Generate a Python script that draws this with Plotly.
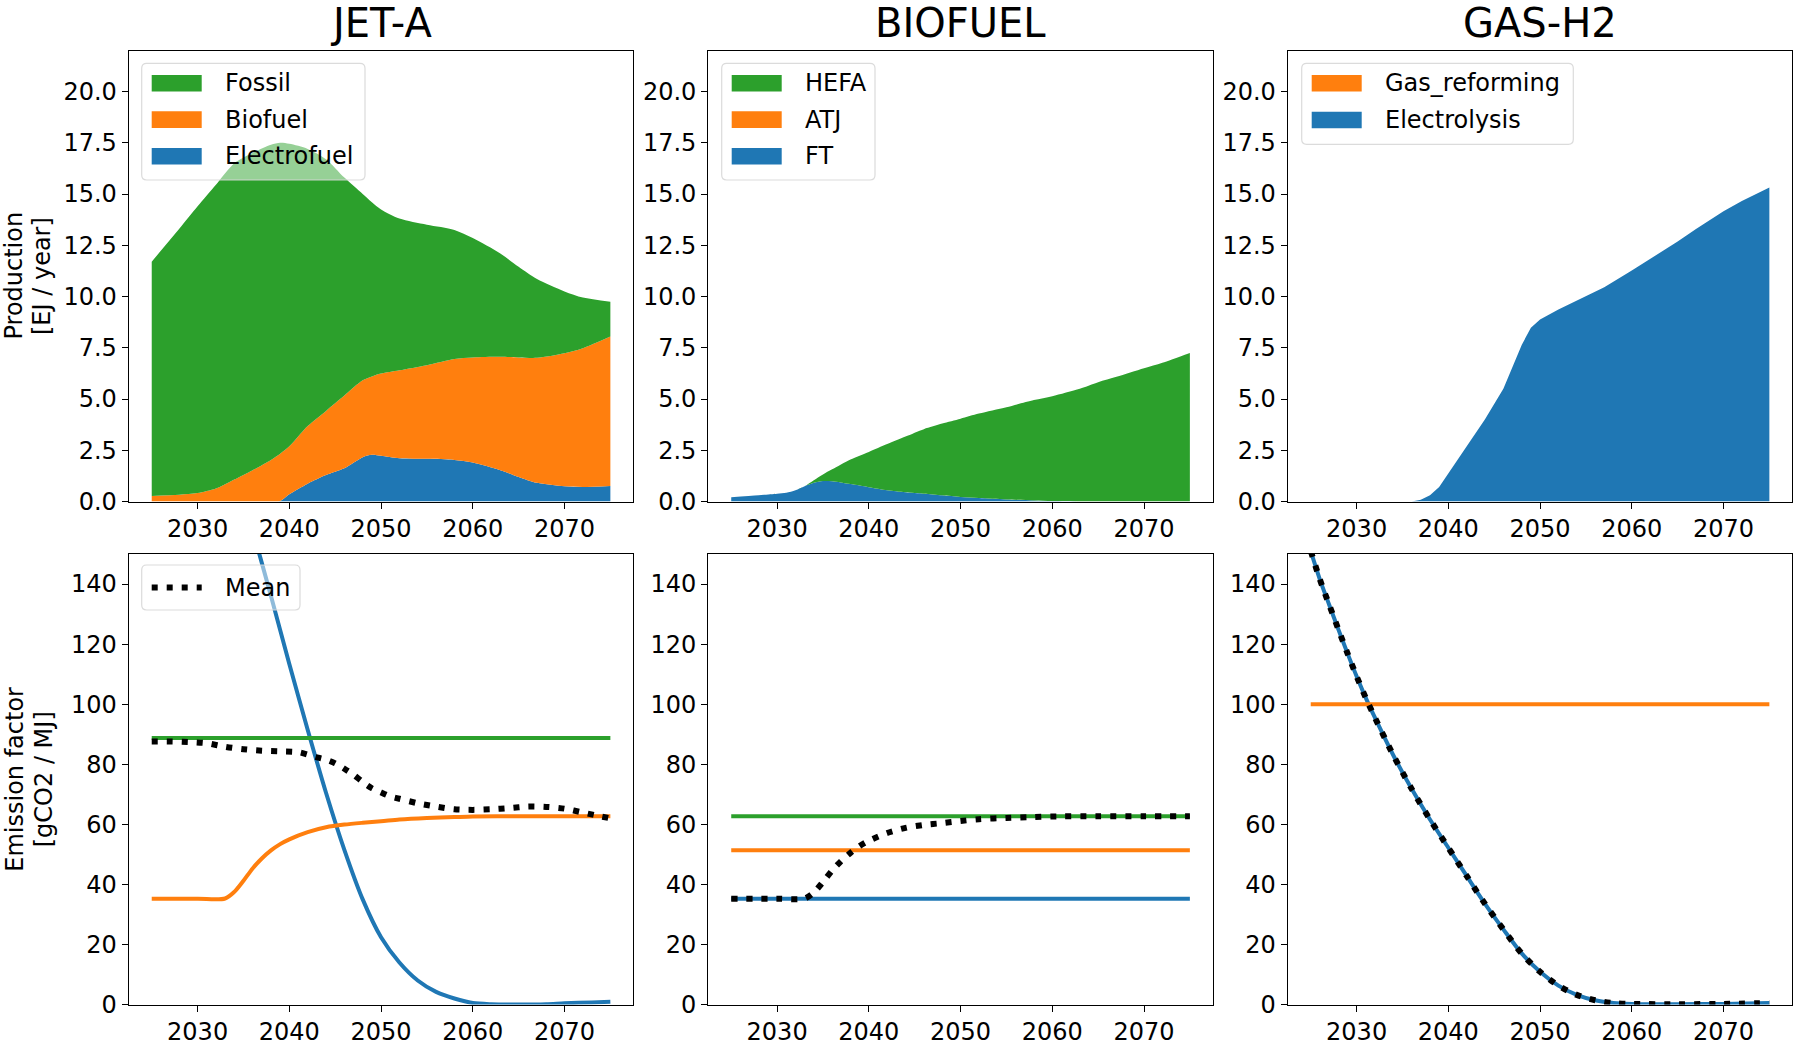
import plotly.graph_objects as go

W, H = 1800, 1050
FONT = "DejaVu Sans"
C_BLUE, C_ORANGE, C_GREEN = "#1f77b4", "#ff7f0e", "#2ca02c"

# ---------------- data: production [EJ / year] ----------------
jet_years = [2025, 2028, 2030, 2032, 2034, 2036, 2038, 2039, 2040, 2042, 2044, 2046, 2048,
             2049, 2050, 2052, 2055, 2058, 2060, 2063, 2065, 2067, 2070, 2072, 2075]
jet_electrofuel = [0, 0, 0, 0, 0, 0, 0, 0.02, 0.35, 0.87, 1.29, 1.62, 2.16,
                   2.28, 2.23, 2.11, 2.08, 2.03, 1.90, 1.53, 1.20, 0.91, 0.74, 0.71, 0.76]
jet_biofuel = [0.27, 0.33, 0.41, 0.63, 1.07, 1.53, 2.03, 2.31, 2.34, 2.81, 3.13, 3.55, 3.75,
               3.82, 4.01, 4.29, 4.57, 4.92, 5.13, 5.53, 5.83, 6.10, 6.49, 6.77, 7.29]
jet_fossil = [11.43, 12.97, 13.99, 14.82, 15.43, 15.47, 15.37, 15.17, 14.76, 13.52, 12.28, 10.63, 9.09,
              8.50, 8.01, 7.40, 6.85, 6.30, 5.82, 5.04, 4.42, 3.84, 3.02, 2.47, 1.70]

bio_years = [2025, 2028, 2030, 2031, 2032, 2033, 2034, 2035, 2036, 2038, 2040, 2042, 2044,
             2046, 2048, 2050, 2052, 2055, 2058, 2060, 2063, 2065, 2067, 2070, 2072, 2075]
bio_ft = [0.21, 0.31, 0.38, 0.43, 0.55, 0.75, 0.92, 1.00, 0.99, 0.85, 0.70, 0.55, 0.45,
          0.38, 0.30, 0.22, 0.17, 0.10, 0.05, 0.02, 0, 0, 0, 0, 0, 0]
bio_atj = [0] * 26
bio_hefa = [0, 0, 0, 0, 0, 0, 0.12, 0.32, 0.58, 1.20, 1.72, 2.25, 2.72,
            3.15, 3.50, 3.82, 4.12, 4.50, 4.90, 5.12, 5.50, 5.82, 6.08, 6.50, 6.77, 7.25]

h2_years = [2025, 2030, 2035, 2036, 2037, 2038, 2039, 2040, 2042, 2044, 2046, 2048,
            2049, 2050, 2052, 2055, 2057, 2060, 2063, 2065, 2067, 2070, 2072, 2075]
h2_electrolysis = [0, 0, 0, 0, 0.08, 0.30, 0.71, 1.37, 2.69, 4.01, 5.50, 7.64,
                   8.47, 8.88, 9.37, 10.03, 10.45, 11.27, 12.10, 12.68, 13.29, 14.16, 14.66, 15.32]
h2_gas_reforming = [0] * 24

# ---------------- data: emission factors [gCO2 / MJ] ----------------
ef_const_years = [2025, 2075]
jet_ef_fossil = [88.7, 88.7]

ef_bio_years = [2025, 2030, 2033, 2034, 2035, 2036, 2037, 2038, 2039, 2040, 2042, 2044,
                2046, 2048, 2050, 2052, 2055, 2058, 2060, 2065, 2070, 2075]
jet_ef_biofuel = [35.2, 35.2, 35.3, 37.5, 41.2, 45.3, 48.6, 51.3, 53.4, 55.0, 57.4, 59.0,
                  59.9, 60.5, 61.0, 61.6, 62.1, 62.4, 62.6, 62.7, 62.7, 62.7]

ef_elec_years = [2025, 2030, 2034, 2036, 2038, 2040, 2042, 2044, 2046, 2048, 2050, 2052,
                 2054, 2056, 2058, 2060, 2062, 2065, 2068, 2070, 2073, 2075]
jet_ef_electrofuel = [295, 228, 180, 158, 136, 113.4, 91.5, 70.5, 51.5, 35.0, 22.4, 14.0,
                      8.0, 4.2, 2.0, 0.5, 0.1, 0.0, 0.1, 0.4, 0.7, 0.9]

ef_mean_years = [2025, 2027, 2029, 2031, 2033, 2035, 2037, 2039, 2041, 2043, 2044, 2045, 2046,
                 2047, 2048, 2049, 2050, 2051, 2052, 2054, 2056, 2058, 2060, 2062, 2064, 2066,
                 2068, 2070, 2072, 2074, 2075]
jet_ef_mean = [87.6, 87.6, 87.4, 87.0, 85.8, 85.0, 84.5, 84.3, 84.0, 82.3, 81.5, 80.3, 78.5,
               76.5, 74.1, 72.0, 70.6, 69.3, 68.5, 67.0, 65.9, 65.0, 64.8, 65.0, 65.4, 65.9,
               65.8, 65.2, 63.9, 62.6, 62.0]

bio_ef_hefa = [62.7, 62.7]
bio_ef_atj = [51.4, 51.4]
bio_ef_ft = [35.2, 35.2]
bio_ef_mean = [35.2, 35.2, 35.3, 37.3, 40.8, 44.6, 47.8, 50.5, 52.8, 54.5, 57.1, 58.8,
               59.8, 60.4, 61.1, 61.7, 62.1, 62.4, 62.6, 62.7, 62.7, 62.7]

h2_ef_years = [2025, 2026, 2027, 2028, 2029, 2030, 2031, 2032, 2034, 2036, 2038, 2040,
               2042, 2044, 2046, 2048, 2050, 2052, 2054, 2056, 2058, 2060, 2065, 2070, 2075]
h2_ef_electrolysis = [151, 141.5, 133.2, 125, 117, 109.3, 102.1, 95.5, 83, 71.8, 61.6, 52.2,
                      42.8, 33.5, 25.0, 17.0, 10.9, 6.3, 3.2, 1.4, 0.5, 0.2, 0.1, 0.2, 0.5]
h2_ef_gas_reforming = [100, 100]
h2_ef_mean = h2_ef_electrolysis

titles = ["JET-A", "BIOFUEL", "GAS-H2"]
prod_ticks = [0, 2.5, 5, 7.5, 10, 12.5, 15, 17.5, 20]
ef_ticks = [0, 20, 40, 60, 80, 100, 120, 140]
year_ticks = [2030, 2040, 2050, 2060, 2070]

# ---------------- layout geometry (pixels) ----------------
col_px = [(128.8, 633.3), (708.3, 1212.8), (1287.8, 1792.3)]
row_px = [(50.5, 501.5), (554.0, 1004.5)]


def fx(p):
    return p / W


def fy(p):
    return 1 - p / H


fig = go.Figure()

tick_font = dict(family=FONT, size=24, color="black")
axis_common = dict(showline=True, mirror=True, linecolor="black", linewidth=1.2,
                   ticks="outside", ticklen=6, tickwidth=1.2, tickcolor="black",
                   showgrid=False, zeroline=False, tickfont=tick_font, fixedrange=True,
                   automargin=False)

for r in range(2):
    for c in range(3):
        i = r * 3 + c + 1
        x0, x1 = col_px[c]
        y0, y1 = row_px[r]
        fig.layout[f"xaxis{i}"] = dict(domain=[fx(x0), fx(x1)], anchor=f"y{i}",
                                       range=[2022.5, 2077.5], tickvals=year_ticks,
                                       **axis_common)
        if r == 0:
            yextra = dict(range=[0, 22], tickvals=prod_ticks, tickformat=".1f")
        else:
            yextra = dict(range=[0, 150], tickvals=ef_ticks)
        fig.layout[f"yaxis{i}"] = dict(domain=[fy(y1), fy(y0)], anchor=f"x{i}",
                                       **yextra, **axis_common)


def area(x, y, color, ax, group, shape="spline"):
    fig.add_trace(go.Scatter(x=x, y=y, mode="lines", stackgroup=group,
                             line=dict(width=0, color=color, shape=shape, smoothing=0.8),
                             fillcolor=color,
                             xaxis=f"x{ax}", yaxis=f"y{ax}", showlegend=False,
                             hoverinfo="skip"))


def line(x, y, color, ax, width=4, dash=None, shape="spline"):
    fig.add_trace(go.Scatter(x=x, y=y, mode="lines",
                             line=dict(width=width, color=color, dash=dash,
                                       shape=shape, smoothing=0.8),
                             xaxis=f"x{ax}", yaxis=f"y{ax}", showlegend=False,
                             hoverinfo="skip"))


MEAN_W = 6
MEAN_DASH = "6px,9px"

# top row: stacked production
area(jet_years, jet_electrofuel, C_BLUE, 1, "jet")
area(jet_years, jet_biofuel, C_ORANGE, 1, "jet")
area(jet_years, jet_fossil, C_GREEN, 1, "jet")

area(bio_years, bio_ft, C_BLUE, 2, "bio")
area(bio_years, bio_atj, C_ORANGE, 2, "bio")
area(bio_years, bio_hefa, C_GREEN, 2, "bio")

area(h2_years, h2_electrolysis, C_BLUE, 3, "h2", shape="linear")
area(h2_years, h2_gas_reforming, C_ORANGE, 3, "h2", shape="linear")

# bottom row: emission factors
line(ef_elec_years, jet_ef_electrofuel, C_BLUE, 4)
line(ef_bio_years, jet_ef_biofuel, C_ORANGE, 4)
line(ef_const_years, jet_ef_fossil, C_GREEN, 4, shape="linear")
line(ef_mean_years, jet_ef_mean, "black", 4, width=MEAN_W, dash=MEAN_DASH)

line(ef_const_years, bio_ef_ft, C_BLUE, 5, shape="linear")
line(ef_const_years, bio_ef_atj, C_ORANGE, 5, shape="linear")
line(ef_const_years, bio_ef_hefa, C_GREEN, 5, shape="linear")
line(ef_bio_years, bio_ef_mean, "black", 5, width=MEAN_W, dash=MEAN_DASH)

line(h2_ef_years, h2_ef_electrolysis, C_BLUE, 6)
line(ef_const_years, h2_ef_gas_reforming, C_ORANGE, 6, shape="linear")
line(h2_ef_years, h2_ef_mean, "black", 6, width=MEAN_W, dash=MEAN_DASH)

# ---------------- titles and axis labels ----------------
annotations = []
for c, t in enumerate(titles):
    x0, x1 = col_px[c]
    annotations.append(dict(text=t, x=fx((x0 + x1) / 2), y=fy(22.5), xref="paper", yref="paper",
                            xanchor="center", yanchor="middle", showarrow=False,
                            font=dict(family=FONT, size=40, color="black")))


def vlabel(text, xc, row):
    annotations.append(dict(text=text, x=fx(xc), y=fy(sum(row_px[row]) / 2),
                            xref="paper", yref="paper", xanchor="center", yanchor="middle",
                            textangle=-90, showarrow=False, borderpad=0,
                            font=dict(family=FONT, size=24, color="black")))


vlabel("Production", 13.5, 0)
vlabel("[EJ / year]", 42, 0)
vlabel("Emission factor", 15.5, 1)
vlabel("[gCO2 / MJ]", 44, 1)

# ---------------- legends (drawn as boxes, patches and text) ----------------
shapes = []


def rounded_box(x0, y0, x1, y1, r=5):
    pts = (f"M{fx(x0 + r)},{fy(y0)} L{fx(x1 - r)},{fy(y0)} Q{fx(x1)},{fy(y0)} {fx(x1)},{fy(y0 + r)} "
           f"L{fx(x1)},{fy(y1 - r)} Q{fx(x1)},{fy(y1)} {fx(x1 - r)},{fy(y1)} "
           f"L{fx(x0 + r)},{fy(y1)} Q{fx(x0)},{fy(y1)} {fx(x0)},{fy(y1 - r)} "
           f"L{fx(x0)},{fy(y0 + r)} Q{fx(x0)},{fy(y0)} {fx(x0 + r)},{fy(y0)} Z")
    shapes.append(dict(type="path", path=pts, xref="paper", yref="paper",
                       fillcolor="rgba(255,255,255,0.5)",
                       line=dict(color="rgba(215,215,215,0.9)", width=1.2), layer="above"))


def legend_text(label, x, y):
    annotations.append(dict(text=label, x=fx(x), y=fy(y), xref="paper", yref="paper",
                            xanchor="left", yanchor="middle", showarrow=False,
                            font=dict(family=FONT, size=24, color="black")))


def patch_legend(box, px0, entries, y_centers):
    rounded_box(*box)
    for (label, color), yc in zip(entries, y_centers):
        shapes.append(dict(type="rect", xref="paper", yref="paper",
                           x0=fx(px0), x1=fx(px0 + 50), y0=fy(yc + 8.3), y1=fy(yc - 8.3),
                           fillcolor=color, line=dict(width=0), layer="above"))
        legend_text(label, px0 + 71.6, yc)


patch_legend((141.7, 63.3, 365, 180), 151.7,
             [("Fossil", C_GREEN), ("Biofuel", C_ORANGE), ("Electrofuel", C_BLUE)],
             [83.3, 119.6, 156.3])
patch_legend((721.7, 63.3, 875, 180), 731.7,
             [("HEFA", C_GREEN), ("ATJ", C_ORANGE), ("FT", C_BLUE)],
             [83.3, 119.6, 156.3])
patch_legend((1301.7, 63.3, 1573.3, 144.3), 1311.7,
             [("Gas_reforming", C_ORANGE), ("Electrolysis", C_BLUE)],
             [83.2, 120.0])

rounded_box(141.7, 565, 300, 610)
shapes.append(dict(type="line", xref="paper", yref="paper",
                   x0=fx(151.7), x1=fx(201.7), y0=fy(587.5), y1=fy(587.5),
                   line=dict(color="black", width=MEAN_W, dash=MEAN_DASH), layer="above"))
legend_text("Mean", 223.3, 587.5)

fig.update_layout(template="none", width=W, height=H, autosize=False,
                  margin=dict(l=0, r=0, t=0, b=0, pad=0, autoexpand=False),
                  paper_bgcolor="white", plot_bgcolor="white",
                  showlegend=False, annotations=annotations, shapes=shapes,
                  font=dict(family=FONT, size=24, color="black"))

fig.write_html("out.html")
